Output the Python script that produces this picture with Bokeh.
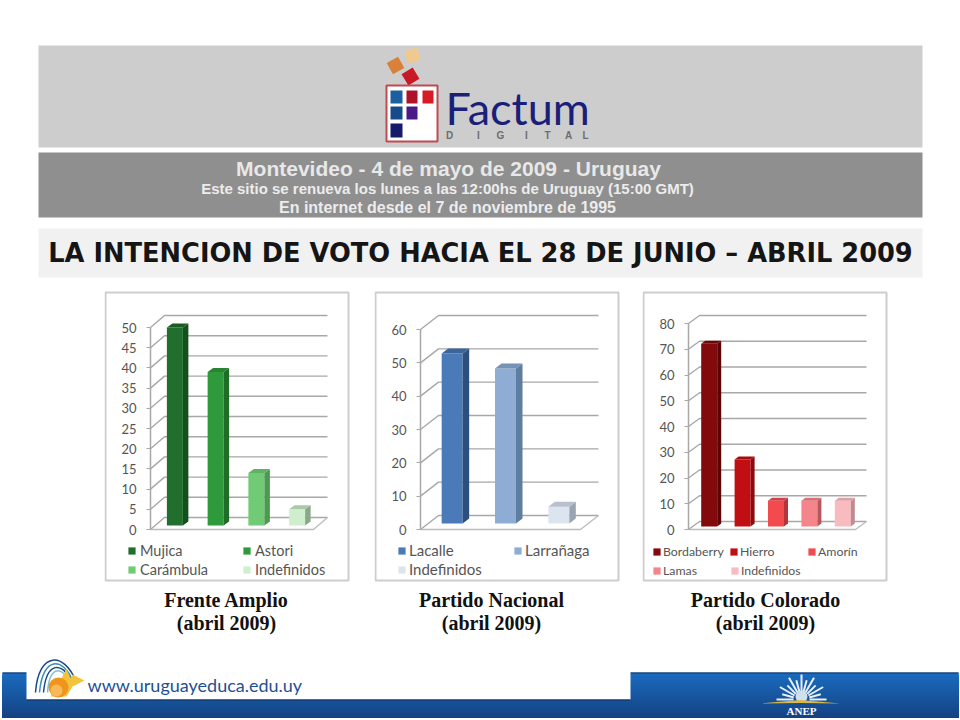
from math import cos, sin, pi

from bokeh.core.properties import value
from bokeh.embed import file_html
from bokeh.layouts import column, row
from bokeh.models import BoxAnnotation, FixedTicker, Legend, LegendItem, Range1d, Spacer
from bokeh.plotting import figure
from bokeh.resources import INLINE

# chart data
fa_names = ["Mujica", "Astori", "Carámbula", "Indefinidos"]
fa_values = [49, 38, 13, 4]
fa_ticks = [0, 5, 10, 15, 20, 25, 30, 35, 40, 45, 50]

pn_names = ["Lacalle", "Larrañaga", "Indefinidos"]
pn_values = [51, 46.5, 5]
pn_ticks = [0, 10, 20, 30, 40, 50, 60]

pc_names = ["Bordaberry", "Hierro", "Amorín", "Lamas", "Indefinidos"]
pc_values = [71, 26, 10, 10, 10]
pc_ticks = [0, 10, 20, 30, 40, 50, 60, 70, 80]

# bar colours: front, side, top
fa_colors = [("#216f2c", "#14501d", "#1b5c25"), ("#2f9a3b", "#1f6d28", "#288432"),
             ("#71cb74", "#4c9a50", "#5fb163"), ("#cfeecd", "#8aa888", "#a9c9a7")]
pn_colors = [("#4a7ab8", "#2d4f7e", "#3c659c"), ("#8eacd4", "#5f7da0", "#7692b6"),
             ("#dce4f0", "#9aa5b2", "#b7c0cc")]
pc_colors = [("#820a0c", "#5c0506", "#6d0809"), ("#c00e12", "#8e0a0c", "#a50c0f"),
             ("#f24a4f", "#b73338", "#d63f44"), ("#f4858a", "#b4585c", "#d96e73"),
             ("#f8bcc0", "#c08a8e", "#e0a0a4")]

GRID = "#a8a8a8"
LABEL = "#555555"
TEXT_FONT = "Lato"
SANS = value("Liberation Sans")
SERIF = value("Liberation Serif")


def bar_chart(names, values, ticks, colors, canvas_left, canvas_width, axis_x, axis_top,
              back_dx, back_dy, floor_right, bar_w, bar_shift, bar_lift, side_dx, side_dy,
              legend_pos, legend_size, glyph_gap):
    canvas_top, canvas_h, y0 = 290, 292, 529
    n = len(values)
    vmax = ticks[-1]
    step = (floor_right - axis_x) / n
    per_px = vmax / (y0 - axis_top)

    # the frame fills the panel, so legend and border are not clipped
    p = figure(width=canvas_width, height=canvas_h, output_backend="svg", toolbar_location=None,
               x_range=Range1d(-0.5 + (canvas_left - axis_x) / step,
                               -0.5 + (canvas_left + canvas_width - axis_x) / step),
               y_range=Range1d((y0 - canvas_top - canvas_h) * per_px, (y0 - canvas_top) * per_px),
               min_border=0, x_axis_location=None, outline_line_color=None)
    p.grid.visible = False

    ax = p.yaxis[0]
    ax.fixed_location = -0.5
    ax.ticker = FixedTicker(ticks=ticks)
    ax.bounds = (0, vmax)
    ax.minor_tick_line_color = None
    ax.axis_line_color = GRID
    ax.axis_line_width = 1.5
    ax.major_tick_line_color = GRID
    ax.major_tick_in = 0
    ax.major_tick_out = 4
    ax.major_label_standoff = 10
    ax.major_label_text_color = LABEL
    ax.major_label_text_font = TEXT_FONT
    ax.major_label_text_font_size = "13px"

    # depth of the 3d box, in data units
    ddx = back_dx / step
    ddy = -back_dy * per_px
    left, right = -0.5, -0.5 + n
    for t in ticks:
        p.line([left, left + ddx, right + ddx], [t, t + ddy, t + ddy],
               line_color=GRID, line_width=1.4)
    p.line([left, right, right + ddx], [0, 0, ddy], line_color="#bdbdbd", line_width=1.4)

    shift = bar_shift / step
    half = bar_w / step / 2
    lift = bar_lift * per_px
    sdx = side_dx / step
    sdy = -side_dy * per_px
    bars = []
    for i, v in enumerate(values):
        front, side, top = colors[i]
        xl, xr = i + shift - half, i + shift + half
        r = p.vbar(x=[i + shift], width=[2 * half], bottom=[lift], top=[v + lift],
                   fill_color=front, line_color=None)
        p.patch([xr, xr + sdx, xr + sdx, xr], [lift, lift + sdy, v + lift + sdy, v + lift],
                fill_color=side, line_color=None)
        p.patch([xl, xl + sdx, xr + sdx, xr], [v + lift, v + lift + sdy, v + lift + sdy, v + lift],
                fill_color=top, line_color=None)
        bars.append(r)

    # the legend entries flow like the spreadsheet's, so each one sits on its own
    for name, r, (lx, ly) in zip(names, bars, legend_pos):
        leg = Legend(items=[LegendItem(label=name, renderers=[r])],
                     location=(lx - canvas_left, canvas_top + canvas_h - ly - 7),
                     border_line_color=None, background_fill_alpha=0, padding=0, margin=0,
                     glyph_width=9, glyph_height=9, label_standoff=glyph_gap,
                     label_text_color=LABEL, label_text_font=TEXT_FONT,
                     label_text_font_size=legend_size, label_height=14)
        p.add_layout(leg)

    p.add_layout(BoxAnnotation(left=1, right=canvas_width - 2, top=2, bottom=290,
                               left_units="canvas", right_units="canvas",
                               top_units="canvas", bottom_units="canvas",
                               fill_alpha=0, line_color="#cdcdcd", line_width=2, line_alpha=1))
    return p


# header: logo, grey bands and page title
head = figure(width=960, height=290, output_backend="svg", toolbar_location=None,
              x_range=Range1d(0, 960), y_range=Range1d(290, 0),
              x_axis_location=None, y_axis_location=None, outline_line_color=None,
              min_border=0)
head.grid.visible = False
head.quad(left=38, right=922, top=45, bottom=147, fill_color="#cdcdcd", line_color=None)
head.quad(left=38, right=922, top=152, bottom=217, fill_color="#8f8f8f", line_color=None)
head.quad(left=38, right=922, top=228, bottom=277, fill_color="#f1f1f1", line_color=None)

head.rect(x=[395, 412, 410], y=[65, 55, 76], width=[13, 13, 13], height=[13, 13, 13],
          angle=[0.5, 0.3, 0.55], fill_color=["#d9813a", "#efc98f", "#c81a25"], line_color=None)
head.quad(left=386, right=437, top=85, bottom=141, fill_color="#ffffff",
          line_color="#c04a50", line_width=2)
head.quad(left=[390, 406, 422, 390, 406, 390], right=[402, 417, 433, 402, 417, 402],
          top=[90, 90, 90, 106, 106, 123], bottom=[103, 103, 103, 119, 119, 137],
          fill_color=["#1c5fa0", "#b01228", "#d81a22", "#174a8a", "#4a1a88", "#161a6a"],
          line_color=None)
head.text(x=[445], y=[107], text=["Factum"], text_font=value("Lato"),
          text_font_size="45px", text_color="#1a2078", text_baseline="middle")
head.text(x=[449, 478, 500, 526, 547, 568, 585], y=[135] * 7, text=list("DIGITAL"),
          text_font=SANS, text_font_style="bold", text_font_size="10px",
          text_color="#6e6e6e", text_align="center", text_baseline="middle")

head.text(x=[448], y=[168], text=["Montevideo - 4 de mayo de 2009 - Uruguay"],
          text_font=SANS, text_font_style="bold", text_font_size="21px",
          text_color="#e8e8e8", text_align="center", text_baseline="middle")
head.text(x=[447, 447], y=[188, 207],
          text=["Este sitio se renueva los lunes a las 12:00hs de Uruguay (15:00 GMT)",
                "En internet desde el 7 de noviembre de 1995"],
          text_font=SANS, text_font_style="bold", text_font_size=["15px", "16px"],
          text_color="#ececec", text_align="center", text_baseline="middle")
head.text(x=[480], y=[252], text=["LA INTENCION DE VOTO HACIA EL 28 DE JUNIO – ABRIL 2009"],
          text_font=value("DejaVu Sans"), text_font_style="bold", text_font_size="25.7px",
          text_color="#151515", text_align="center", text_baseline="middle")

chart_fa = bar_chart(fa_names, fa_values, fa_ticks, fa_colors, 104, 246, 150, 327,
                     14, -12, 313, 16, 4, 4, 5.5, -4,
                     [(127, 552), (242, 552), (127, 571), (242, 571)], "14.5px", 4)
chart_pn = bar_chart(pn_names, pn_values, pn_ticks, pn_colors, 374, 246, 420, 329,
                     18, -14, 580, 21, 5, 6, 6.5, -5,
                     [(397, 552), (513, 552), (397, 571)], "15px", 3)
chart_pc = bar_chart(pc_names, pc_values, pc_ticks, pc_colors, 642, 246, 688, 323,
                     11, -8, 855, 16, 4, 3, 4, -3,
                     [(652, 552), (729, 552), (807, 552), (652, 571), (730, 571)], "12.3px", 2)

# footer: chart captions and the blue band
foot = figure(width=960, height=137, output_backend="svg", toolbar_location=None,
              x_range=Range1d(0, 960), y_range=Range1d(719, 582),
              x_axis_location=None, y_axis_location=None, outline_line_color=None,
              min_border=0)
foot.grid.visible = False
for cx, title in [(226, "Frente Amplio"), (491, "Partido Nacional"), (765, "Partido Colorado")]:
    foot.text(x=[cx, cx], y=[599, 622], text=[title, "(abril 2009)"],
              text_font=SERIF, text_font_style="bold", text_font_size="20px",
              text_color="#111111", text_align="center", text_baseline="middle")

# vertical shading of the band: each layer runs to the bottom so no seams show
band_top, band_bottom = 672, 717
for yy in range(band_top, band_bottom):
    f = (yy - band_top) / (band_bottom - band_top)
    shade = "#%02x%02x%02x" % (int(27 - 5 * f), int(108 - 42 * f), int(192 - 62 * f))
    foot.quad(left=2, right=958, top=yy, bottom=band_bottom, fill_color=shade, line_color=None)
foot.quad(left=2, right=958, top=672, bottom=673, fill_color="#13305f", line_color=None)
foot.quad(left=26, right=630, top=670, bottom=699, fill_color="#ffffff", line_color=None)
foot.quad(left=26, right=630, top=699, bottom=700, fill_color="#13305f", line_color=None)

foot.text(x=[87], y=[684], text=["www.uruguayeduca.edu.uy"], text_font=value("Lato"),
          text_font_size="18px", text_color="#1f5096", text_baseline="middle")
foot.bezier(x0=[35, 39, 43, 47], y0=[692, 692, 692, 692], x1=[75, 72, 70, 67], y1=[680, 680, 679, 678],
            cx0=[38, 42, 46, 49], cy0=[650, 655, 660, 665], cx1=[64, 63, 62, 60], cy1=[652, 657, 662, 667],
            line_color=["#1a4a8a", "#3f8fb0", "#1a4a8a", "#7fc0d0"], line_width=1.5)
foot.patch([60, 66, 70, 72, 84, 72, 66, 50], [680, 668, 678, 674, 680, 686, 696, 696],
           fill_color="#f4c33c", line_color=None)
foot.circle(x=[58], y=[687], radius=10, fill_color="#ef951c", line_color=None)
foot.circle(x=[56], y=[690], radius=6, fill_color="#f7b95a", line_color=None)

# ANEP emblem
n_rays = 13
sx0, sy0, sx1, sy1 = [], [], [], []
for k in range(n_rays):
    a = pi * k / (n_rays - 1)
    reach = 25 if k % 2 == 0 else 20
    sx0.append(801 + 8 * cos(a))
    sy0.append(699 - 8 * sin(a))
    sx1.append(801 + reach * cos(a))
    sy1.append(699 - reach * sin(a))
foot.segment(sx0, sy0, sx1, sy1, line_color="#e8f0f8", line_width=2)
foot.circle(x=[801], y=[696], radius=6, fill_color="#cfe0ee", line_color=None)
foot.patch([760, 800, 840, 800], [703, 699.5, 703, 702.5], fill_color="#d8b84a", line_color=None)
foot.text(x=[801], y=[710], text=["ANEP"], text_font=SERIF, text_font_style="bold",
          text_font_size="11px", text_color="#ffffff", text_align="center", text_baseline="middle")

charts = row(Spacer(width=104, height=292), chart_fa, Spacer(width=24, height=292), chart_pn,
             Spacer(width=22, height=292), chart_pc)
page = column(head, charts, foot)

open("out.html", "w").write(file_html(page, INLINE))
